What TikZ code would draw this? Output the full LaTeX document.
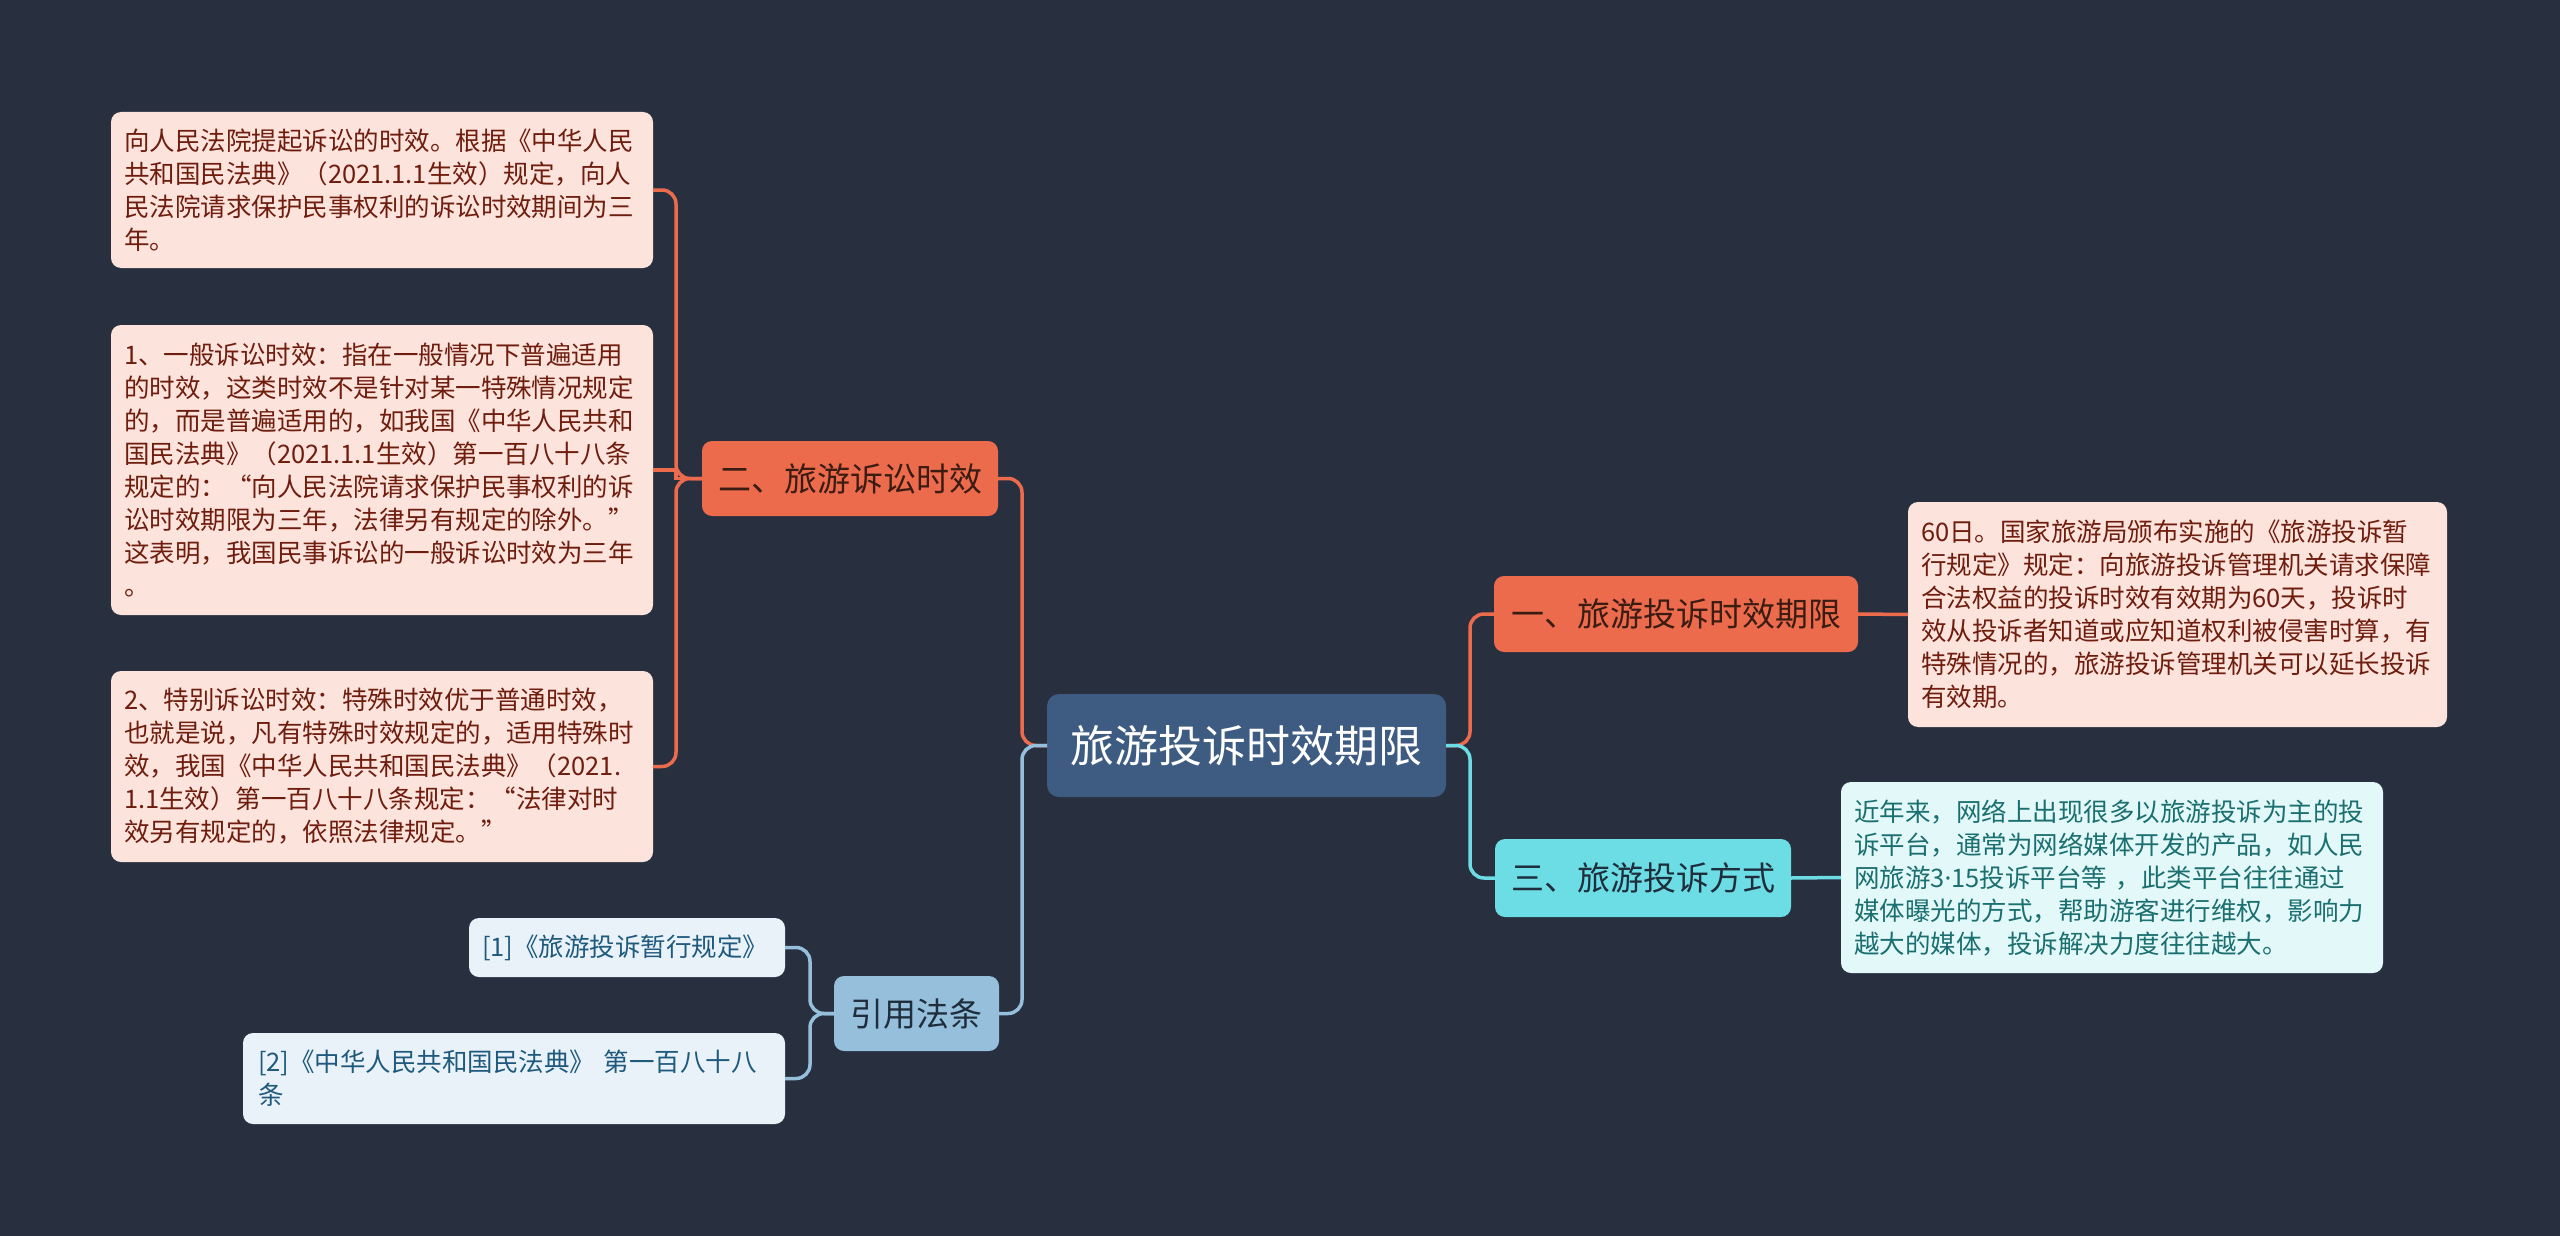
\documentclass[tikz,border=0pt]{standalone}
\usepackage{fontspec}
\setmainfont{Noto Sans CJK SC}
\newfontfamily\latinfont{Noto Sans}
\definecolor{bgc}{HTML}{283040}
\definecolor{centerc}{HTML}{3E5B82}
\definecolor{orangec}{HTML}{ED6B4D}
\definecolor{pinkc}{HTML}{FCE3DC}
\definecolor{redtext}{HTML}{6E1D0E}
\definecolor{btext}{HTML}{3B1C12}
\definecolor{cyanc}{HTML}{6CDDE4}
\definecolor{cyanleaf}{HTML}{E3F8F8}
\definecolor{tealtext}{HTML}{1B6F70}
\definecolor{bluec}{HTML}{96BFDB}
\definecolor{blueleaf}{HTML}{E9F2F8}
\definecolor{bluetext}{HTML}{1F5A7E}
\definecolor{darktext}{HTML}{1E2E3C}
\tikzset{
  box/.style={rounded corners=10pt, inner sep=0pt, outer sep=0pt},
  centerbox/.style={box, fill=centerc, text=white, font=\fontsize{44}{52}\selectfont, rounded corners=12pt},
  branchbox/.style={box, font=\fontsize{33}{40}\selectfont},
  leafbox/.style={box, inner xsep=13pt, align=left, font=\fontsize{25.5}{33}\selectfont},
  conn/.style={line width=3.5pt, rounded corners=14pt}
}
\begin{document}
\begin{tikzpicture}[x=1pt,y=-1pt]
\useasboundingbox (0,0) rectangle (2560,1236);
\fill[bgc] (0,0) rectangle (2560,1236);

% center
\node[centerbox, minimum width=399pt, minimum height=103pt] (c) at (1246.5,745.5) {旅游投诉时效期限};

% branches
\node[branchbox, fill=orangec, text=btext, minimum width=296pt, minimum height=75pt] (b2) at (850,478.5) {二、旅游诉讼时效};
\node[branchbox, fill=orangec, text=btext, minimum width=364pt, minimum height=76pt] (b1) at (1676,614) {一、旅游投诉时效期限};
\node[branchbox, fill=cyanc, text=darktext, minimum width=296pt, minimum height=78pt] (b3) at (1643,878) {三、旅游投诉方式};
\node[branchbox, fill=bluec, text=darktext, minimum width=165pt, minimum height=75pt] (b4) at (916.5,1013.5) {引用法条};

% leaves left
\node[leafbox, fill=pinkc, text=redtext, text width=516pt, minimum height=156pt] (la) at (382,190) {向人民法院提起诉讼的时效。根据《中华人民\\共和国民法典》（2021.1.1生效）规定，向人\\民法院请求保护民事权利的诉讼时效期间为三\\年。};
\node[leafbox, fill=pinkc, text=redtext, text width=516pt, minimum height=290pt] (lb) at (382,470) {1、一般诉讼时效：指在一般情况下普遍适用\\的时效，这类时效不是针对某一特殊情况规定\\的，而是普遍适用的，如我国《中华人民共和\\国民法典》（2021.1.1生效）第一百八十八条\\规定的：“向人民法院请求保护民事权利的诉\\讼时效期限为三年，法律另有规定的除外。”\\这表明，我国民事诉讼的一般诉讼时效为三年\\。};
\node[leafbox, fill=pinkc, text=redtext, text width=516pt, minimum height=191pt] (lc) at (382,766.5) {2、特别诉讼时效：特殊时效优于普通时效，\\也就是说，凡有特殊时效规定的，适用特殊时\\效，我国《中华人民共和国民法典》（2021.\\1.1生效）第一百八十八条规定：“法律对时\\效另有规定的，依照法律规定。”};

% leaves right
\node[leafbox, fill=pinkc, text=redtext, text width=513pt, minimum height=225pt] (ld) at (2177.5,614.5) {60日。国家旅游局颁布实施的《旅游投诉暂\\行规定》规定：向旅游投诉管理机关请求保障\\合法权益的投诉时效有效期为60天，投诉时\\效从投诉者知道或应知道权利被侵害时算，有\\特殊情况的，旅游投诉管理机关可以延长投诉\\有效期。};
\node[leafbox, fill=cyanleaf, text=tealtext, text width=516pt, minimum height=191pt] (le) at (2112,877.5) {近年来，网络上出现很多以旅游投诉为主的投\\诉平台，通常为网络媒体开发的产品，如人民\\网旅游3{\latinfont ·}15投诉平台等 ，此类平台往往通过\\媒体曝光的方式，帮助游客进行维权，影响力\\越大的媒体，投诉解决力度往往越大。};

% reference leaves
\node[leafbox, fill=blueleaf, text=bluetext, text width=290pt, minimum height=59pt] (lf) at (627,947.5) {[1]《旅游投诉暂行规定》};
\node[leafbox, fill=blueleaf, text=bluetext, text width=512pt, inner xsep=15pt, minimum height=91pt] (lg) at (514,1078.5) {[2]《中华人民共和国民法典》 第一百八十八\\条};

% connectors center -> branches
\draw[conn, orangec] (c.west) -- ++(-25,0) |- (b2.east);
\draw[conn, bluec] (c.west) -- ++(-25,0) |- (b4.east);
\draw[conn, orangec] (c.east) -- ++(24,0) |- (b1.west);
\draw[conn, cyanc] (c.east) -- ++(24,0) |- (b3.west);

% branch 二 -> leaves
\draw[conn, orangec] (b2.west) -- ++(-26,0) |- (la.east);
\draw[conn, orangec, rounded corners=0pt] (b2.west) -- ++(-26,0) |- (lb.east);
\draw[conn, orangec] (b2.west) -- ++(-26,0) |- (lc.east);

% right leaves
\draw[conn, orangec] (b1.east) -- (ld.west);
\draw[conn, cyanc] (b3.east) -- (le.west);

% references
\draw[conn, bluec] (b4.west) -- ++(-24,0) |- (lf.east);
\draw[conn, bluec] (b4.west) -- ++(-24,0) |- (lg.east);
\end{tikzpicture}
\end{document}
